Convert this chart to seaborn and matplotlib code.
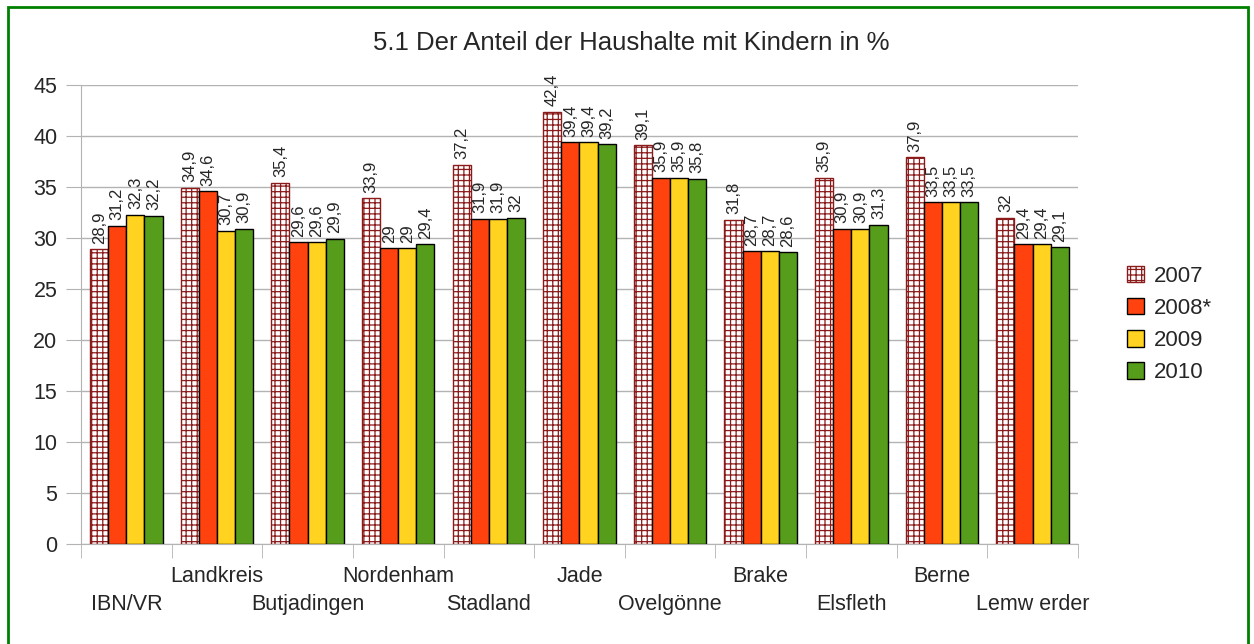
import matplotlib.pyplot as plt
import pandas as pd
import seaborn as sns
from matplotlib.patches import Rectangle

# Chart data
places = [
    "IBN/VR", "Landkreis", "Butjadingen", "Nordenham", "Stadland", "Jade",
    "Ovelgönne", "Brake", "Elsfleth", "Berne", "Lemw erder",
]
years = ["2007", "2008*", "2009", "2010"]
share_2007 = [28.9, 34.9, 35.4, 33.9, 37.2, 42.4, 39.1, 31.8, 35.9, 37.9, 32]
share_2008 = [31.2, 34.6, 29.6, 29, 31.9, 39.4, 35.9, 28.7, 30.9, 33.5, 29.4]
share_2009 = [32.3, 30.7, 29.6, 29, 31.9, 39.4, 35.9, 28.7, 30.9, 33.5, 29.4]
share_2010 = [32.2, 30.9, 29.9, 29.4, 32, 39.2, 35.8, 28.6, 31.3, 33.5, 29.1]
y_ticks = [0, 5, 10, 15, 20, 25, 30, 35, 40, 45]

colors = {"2007": "white", "2008*": "#ff420e", "2009": "#ffd320", "2010": "#579d1c"}

# Long format for seaborn
rows = []
for year, values in zip(years, [share_2007, share_2008, share_2009, share_2010]):
    for place, v in zip(places, values):
        rows.append({"place": place, "year": year, "share": v})
df = pd.DataFrame(rows)

sns.set_style("white")
plt.rcParams["font.family"] = ["Liberation Sans", "DejaVu Sans"]
plt.rcParams["hatch.linewidth"] = 0.9

fig = plt.figure(figsize=(12.54, 6.44), dpi=100)
ax = fig.add_axes([0.0646, 0.1553, 0.795, 0.7127])

sns.barplot(
    data=df, x="place", y="share", hue="year", order=places, hue_order=years,
    palette=colors, saturation=1, width=0.8, edgecolor="black", linewidth=1,
    ax=ax, legend=False, zorder=3,
)

# 2007 bars: white with dark red grid hatch
for bar in ax.containers[0].patches:
    bar.set_facecolor("white")
    bar.set_edgecolor("#8b1a1a")
    bar.set_hatch("+++")

# Value labels
for container, values in zip(ax.containers, [share_2007, share_2008, share_2009, share_2010]):
    labels = [f"{v:g}".replace(".", ",") for v in values]
    ax.bar_label(container, labels=labels, rotation=90, padding=4, fontsize=12)

# Axes styling
ax.set_ylim(0, 45)
ax.set_yticks(y_ticks)
ax.set_xlim(-0.5, len(places) - 0.5)
ax.yaxis.grid(True, color="#b3b3b3", linewidth=1, zorder=0)
ax.set_axisbelow(True)
for side in ["top", "right"]:
    ax.spines[side].set_visible(False)
for side in ["left", "bottom"]:
    ax.spines[side].set_color("#b3b3b3")
ax.tick_params(axis="y", length=11, color="#b3b3b3", labelsize=15.5, pad=6, left=True)

# Category labels staggered on two rows: even ones low, odd ones high
even_pos = list(range(0, len(places), 2))
odd_pos = list(range(1, len(places), 2))
ax.set_xticks(even_pos, [places[i] for i in even_pos])
ax.set_xticks([i - 0.5 for i in range(len(places) + 1)], minor=True)
ax.tick_params(axis="x", which="major", length=0, labelsize=15.5, pad=36)
ax.tick_params(axis="x", which="minor", length=10, color="#b3b3b3", bottom=True)
sec = ax.secondary_xaxis("bottom")
sec.set_xticks(odd_pos, [places[i] for i in odd_pos])
sec.tick_params(axis="x", length=0, labelsize=15.5, pad=16)
sec.spines["bottom"].set_visible(False)
ax.set_xlabel("")
ax.set_ylabel("")

fig.text(0.503, 1 - 43 / 644, "5.1 Der Anteil der Haushalte mit Kindern in %",
         fontsize=18.5, ha="center", va="center")

ax.legend(
    handles=ax.containers, labels=years, loc="center left",
    bbox_to_anchor=(1127 / 1254, 0.496), bbox_transform=fig.transFigure,
    frameon=False, fontsize=16, handlelength=0.75, handleheight=0.75,
    labelspacing=0.5, handletextpad=0.45, borderpad=0, borderaxespad=0,
)

# Green frame around the chart
fig.patches.append(Rectangle(
    (8 / 1254, -0.01), 1240 / 1254, 1 - 7 / 644 + 0.01, transform=fig.transFigure,
    fill=False, edgecolor="#008000", linewidth=2,
))

fig.savefig("out.png", dpi=100)
